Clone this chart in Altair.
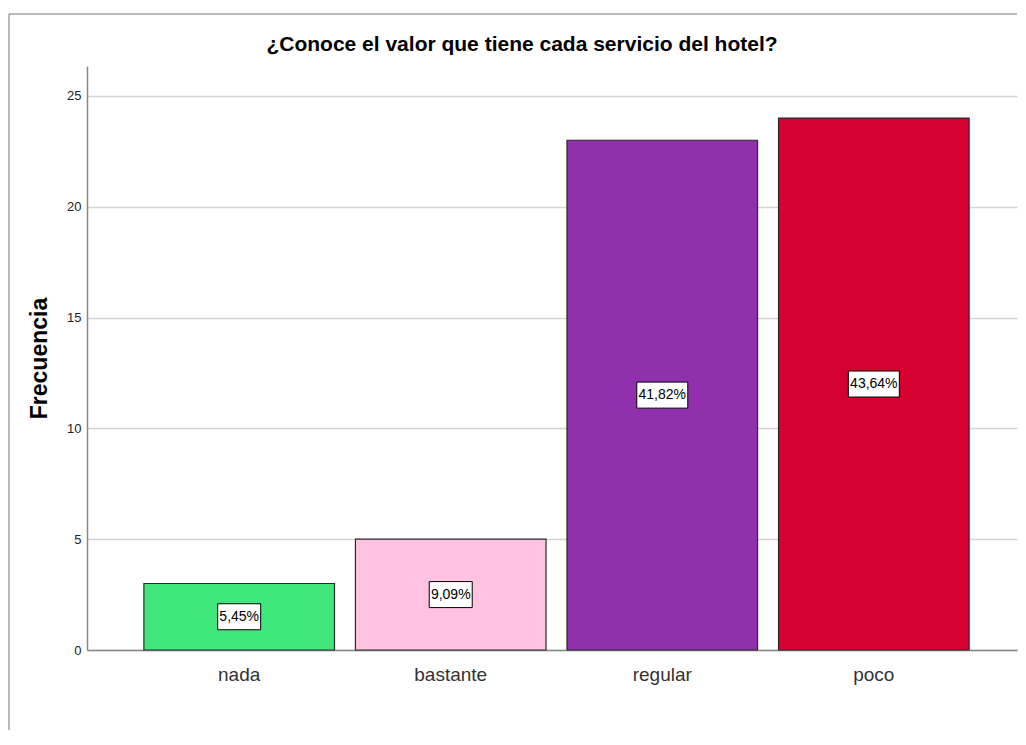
import altair as alt
import pandas as pd

categories = ["nada", "bastante", "regular", "poco"]
frequencies = [3, 5, 23, 24]
percent_labels = ["5,45%", "9,09%", "41,82%", "43,64%"]
bar_colors = ["#40E87C", "#FFC2E0", "#9130AC", "#D50030"]
y_ticks = [0, 5, 10, 15, 20, 25]

df = pd.DataFrame({"cat": categories, "freq": frequencies, "label": percent_labels})
df["mid"] = df["freq"] / 2
df["box"] = ["short" if len(s) <= 5 else "long" for s in df["label"]]

W, H = 930, 584
FONT = "Liberation Sans, Arial, sans-serif"

path_long = "M-1,-0.51L1,-0.51L1,0.51L-1,0.51Z"
path_short = "M-0.843,-0.51L0.843,-0.51L0.843,0.51L-0.843,0.51Z"

x_axis = alt.Axis(
    title=None, labelAngle=0, ticks=False, domain=True,
    domainColor="#888888", domainWidth=1.5,
    labelFontSize=19, labelColor="#333333", labelPadding=15, labelFont=FONT,
)
x_scale = alt.Scale(paddingInner=0.099, paddingOuter=0.2476, align=0.543)
y_scale = alt.Scale(domain=[0, 26.35], nice=False, zero=True)
y_axis = alt.Axis(
    values=y_ticks, title="Frecuencia", titleFontSize=23, titleFontWeight="bold",
    titleFont=FONT, titleColor="#000000", titlePadding=15,
    labelFontSize=13, labelColor="#222222", labelPadding=6, labelFont=FONT,
    ticks=False, domainColor="#888888", domainWidth=1.5,
    grid=True, gridColor="#d4d4d4", gridWidth=1.5,
)

base = alt.Chart(df)

bars = base.mark_bar(stroke="#2a2a2a", strokeWidth=1.2).encode(
    x=alt.X("cat:N", sort=categories, scale=x_scale, axis=x_axis),
    y=alt.Y("freq:Q", scale=y_scale, axis=y_axis),
    color=alt.Color("cat:N", sort=categories,
                    scale=alt.Scale(domain=categories, range=bar_colors), legend=None),
)

boxes = base.mark_point(filled=True, fill="white", stroke="black", strokeWidth=1,
                        opacity=1, size=2601).encode(
    x=alt.X("cat:N", sort=categories, scale=x_scale, axis=x_axis),
    y=alt.Y("mid:Q", scale=y_scale, axis=y_axis),
    shape=alt.Shape("box:N", scale=alt.Scale(domain=["short", "long"],
                                             range=[path_short, path_long]), legend=None),
)

texts = base.mark_text(fontSize=14, font=FONT, color="black", baseline="middle").encode(
    x=alt.X("cat:N", sort=categories, scale=x_scale, axis=x_axis),
    y=alt.Y("mid:Q", scale=y_scale, axis=y_axis),
    text="label:N",
)

frame_data = alt.Chart(pd.DataFrame({"f": [0]}))
frame_left = frame_data.mark_rule(color="#777777", strokeWidth=1).encode(
    x=alt.value(-78), y=alt.value(-52), y2=alt.value(664)
)
frame_top = frame_data.mark_rule(color="#777777", strokeWidth=1).encode(
    y=alt.value(-52), x=alt.value(-78), x2=alt.value(W)
)

chart = alt.layer(bars, boxes, texts, frame_left, frame_top).properties(
    width=W,
    height=H,
    padding={"left": 0, "top": 5, "right": 0, "bottom": 0},
    title=alt.TitleParams(
        "¿Conoce el valor que tiene cada servicio del hotel?",
        fontSize=21, fontWeight="bold", font=FONT, color="#000000",
        anchor="middle", dx=-30, offset=-58, baseline="alphabetic",
    ),
).configure_view(stroke=None)

chart.save("out.html", embed_options={"renderer": "svg", "actions": False})
